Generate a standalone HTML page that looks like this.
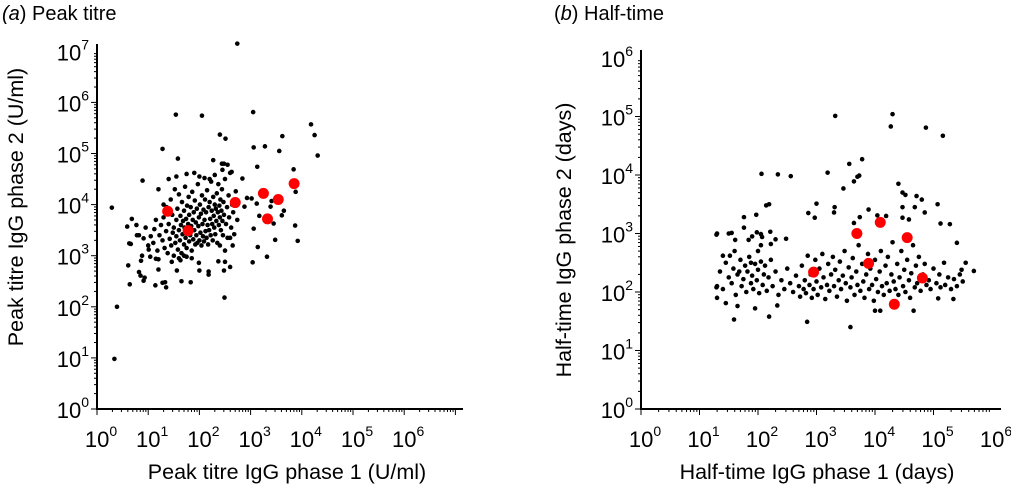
<!DOCTYPE html>
<html><head><meta charset="utf-8"><style>
html,body{margin:0;padding:0;background:#fff;}
svg{display:block;font-family:"Liberation Sans",Arial,sans-serif;}
</style></head><body>
<svg id="chart" width="1011" height="485" viewBox="0 0 1011 485" xmlns="http://www.w3.org/2000/svg">
<text x="2" y="20" font-size="20"><tspan font-style="italic">(a</tspan>) Peak titre</text>
<text x="554" y="20" font-size="20">(<tspan font-style="italic">b</tspan>) Half-time</text>
<text transform="translate(23,207) rotate(-90)" text-anchor="middle" font-size="21.5">Peak titre IgG phase 2 (U/ml)</text>
<text x="287" y="479" text-anchor="middle" font-size="21.5">Peak titre IgG phase 1 (U/ml)</text>
<text transform="translate(571,240) rotate(-90)" text-anchor="middle" font-size="21.5">Half-time IgG phase 2 (days)</text>
<text x="817" y="479" text-anchor="middle" font-size="21.5">Half-time IgG phase 1 (days)</text>
<g id="g1"></g>
<g id="g2"></g>
</svg>
<script>
// Panel A data (log10 values)
const aX = [2.74,1.54,2.05,3.05,4.18,4.25,4.31,2.40,2.51,1.28,1.58,3.06,3.28,3.62,3.56,3.13,3.84,3.88,3.92,3.87,0.29,0.39,0.34,2.49,0.89,3.14,3.04,3.32,3.48,3.45,3.17,3.06,3.65,3.61,3.39,3.41,3.12,3.02,2.93,2.71,2.74,2.88,2.84,2.71,2.63,2.44,2.48,2.27,
0.64,0.61,0.59,0.68,0.77,0.82,0.91,0.63,0.66,0.85,0.93,0.91,0.82,0.86,1.14,1.28,1.35,1.33,1.65,1.83,1.56,1.20,1.01,1.04,1.15,1.20,1.99,2.0,2.18,2.18,2.37,2.50,2.60,2.48,1.75,1.46,1.63,
1.05,1.10,1.12,1.18,1.22,1.25,1.28,1.30,1.32,1.35,1.36,1.38,1.40,1.42,1.44,1.45,1.47,1.48,1.50,1.50,1.52,1.53,1.55,1.55,1.57,1.58,1.60,1.60,1.62,1.63,1.64,1.65,1.66,1.67,1.68,1.70,1.70,1.71,1.72,1.73,1.74,1.75,1.76,1.77,1.78,1.79,1.80,1.80,1.82,1.83,1.84,1.85,1.86,1.87,1.88,1.89,1.90,1.91,1.92,1.93,1.94,1.95,1.96,1.97,1.98,1.99,2.00,2.01,2.02,2.03,2.04,2.05,2.06,2.07,2.08,2.09,2.10,2.11,2.12,2.13,2.14,2.15,2.16,2.17,2.18,2.19,2.20,2.21,2.22,2.23,2.24,2.25,2.26,2.27,2.28,2.29,2.30,2.31,2.32,2.33,2.34,2.35,2.36,2.37,2.38,2.39,2.40,2.41,2.42,2.43,2.44,2.45,2.46,2.47,2.48,2.50,2.52,2.54,2.55,2.57,2.58,2.60,2.62,2.64,2.66,2.68,0.78,0.88,0.95,1.00,1.15,1.20,1.30,1.40,1.55,1.60,1.75,1.90,2.00,2.10,2.20,2.30,2.45,2.55,1.70,1.85,2.40,2.50,2.60,2.65];
const aY = [7.15,5.76,5.74,5.81,5.57,5.36,4.96,5.37,5.29,5.09,4.90,5.12,5.14,5.34,5.05,4.74,4.69,4.25,3.29,3.59,3.94,2.0,0.98,2.18,4.47,3.17,2.87,2.98,3.31,3.63,3.78,3.53,3.88,3.79,3.96,4.07,4.02,4.12,4.13,4.02,3.70,3.96,4.51,4.26,4.64,4.80,4.80,4.87,
2.44,2.81,3.57,3.72,3.60,3.40,3.34,3.24,3.23,2.61,2.57,2.51,2.68,2.90,2.42,2.47,2.38,2.48,2.50,2.48,2.71,2.73,3.12,2.98,2.94,2.93,2.86,2.71,2.69,2.63,2.89,2.88,2.78,2.71,2.98,2.88,2.91,
3.38,3.25,3.52,3.10,3.40,3.60,3.30,3.75,3.15,3.48,3.95,3.05,3.62,3.33,4.10,3.20,3.80,3.45,3.00,3.55,4.30,3.25,3.70,3.38,3.92,3.12,3.50,4.20,3.30,3.78,3.60,3.05,4.05,3.42,3.68,3.22,3.88,3.55,4.35,3.35,3.72,3.15,3.98,3.48,3.62,4.15,3.28,3.80,3.40,3.95,3.58,3.10,4.25,3.70,3.32,3.85,3.50,4.08,3.22,3.65,3.40,3.92,3.25,4.40,3.58,3.75,3.30,4.00,3.45,3.82,3.20,4.18,3.62,3.38,3.90,3.28,3.70,4.10,3.48,3.85,3.35,4.28,3.60,3.22,3.95,3.50,4.05,3.72,3.40,4.45,3.88,3.62,3.30,4.15,3.78,3.55,4.00,3.42,3.92,3.68,4.22,3.25,3.85,4.40,3.60,3.98,3.75,4.10,3.50,3.88,4.30,3.68,3.40,4.05,3.80,4.50,3.62,3.95,3.35,4.18,3.75,4.62,3.55,4.00,3.85,3.42,3.40,3.00,3.55,3.20,3.70,4.30,4.00,4.50,4.55,2.95,4.60,4.62,4.55,4.52,4.50,4.58,4.68,4.78,3.00,2.95,3.20,3.10,3.35,3.20];
const aRedX = [1.38,1.78,2.70,3.25,3.54,3.33,3.85];
const aRedY = [3.87,3.49,4.04,4.22,4.10,3.72,4.41];
// Panel B data (log10 values)
const bX = [3.32,4.30,4.27,4.87,5.16,3.78,3.56,3.19,2.06,2.34,2.56,3.70,3.73,3.64,3.46,4.40,4.47,4.52,4.71,4.80,4.68,4.85,5.07,5.12,5.28,5.40,4.47,4.47,4.58,4.19,4.04,3.89,3.74,3.64,3.31,3.30,3.0,2.86,2.97,2.19,2.14,1.97,1.76,1.76,1.98,2.21,2.05,2.07,1.50,1.29,1.61,1.84,2.48,2.22,
1.59,2.19,2.84,3.58,1.95,2.33,1.65,1.45,1.30,1.29,4.0,4.09,4.66,5.34,5.08,5.69,5.55,5.48,
1.30,1.35,1.40,1.45,1.50,1.55,1.58,1.62,1.65,1.70,1.72,1.75,1.78,1.80,1.82,1.85,1.88,1.90,1.92,1.95,1.98,2.00,2.02,2.05,2.08,2.10,2.12,2.15,2.18,2.22,2.25,2.30,2.35,2.40,2.45,2.50,2.55,2.60,2.65,2.70,2.72,2.75,2.78,2.80,2.82,2.85,2.88,2.90,2.92,2.95,2.98,3.00,3.02,3.05,3.08,3.10,3.12,3.15,3.18,3.20,3.22,3.25,3.28,3.30,3.32,3.35,3.38,3.40,3.42,3.45,3.48,3.50,3.52,3.55,3.58,3.60,3.62,3.65,3.68,3.70,3.72,3.75,3.78,3.80,3.82,3.85,3.88,3.90,3.92,3.95,3.98,4.00,4.02,4.05,4.08,4.10,4.12,4.15,4.18,4.20,4.22,4.25,4.28,4.30,4.32,4.35,4.38,4.40,4.42,4.45,4.48,4.50,4.52,4.55,4.58,4.60,4.62,4.65,4.68,4.70,4.72,4.75,4.78,4.82,4.85,4.88,4.92,4.95,5.00,5.05,5.10,5.12,5.18,5.20,5.25,5.30,5.35,5.40,5.45,5.50,
1.30,1.40,1.55,1.60,1.90,2.05,2.30,1.68,1.52,1.88,2.00];
const bY = [5.01,5.04,4.83,4.81,4.67,4.27,4.19,4.04,4.02,4.01,3.98,3.97,3.99,3.89,3.77,3.85,3.70,3.66,3.64,3.58,3.45,3.36,3.50,3.17,3.16,2.84,3.45,3.27,3.24,3.30,3.31,3.41,3.28,3.18,3.45,3.36,3.51,3.35,3.27,3.50,3.48,3.32,3.28,3.10,3.02,3.03,2.99,2.94,3.0,2.98,2.89,2.89,2.91,2.82,
1.53,1.58,1.49,1.40,1.72,1.77,1.76,1.81,1.90,2.08,1.68,1.68,1.68,1.88,1.89,2.36,2.50,2.38,
2.10,2.35,2.05,2.50,2.25,2.15,2.40,1.95,2.30,2.55,2.10,2.22,2.45,2.00,2.35,2.60,2.15,2.28,2.05,2.48,2.20,2.38,1.98,2.52,2.12,2.30,2.45,2.02,2.25,2.55,2.10,2.35,1.95,2.20,2.05,2.40,2.15,2.00,2.28,2.10,1.92,2.45,2.05,2.20,1.98,2.62,2.12,2.30,1.90,2.05,2.55,2.18,1.95,2.40,2.08,2.65,2.25,1.88,2.12,2.48,2.02,2.30,2.60,2.10,2.38,1.92,2.20,2.52,2.05,2.28,2.70,2.15,1.85,2.42,2.08,2.25,2.58,1.95,2.35,2.12,2.80,2.02,2.48,2.18,1.90,2.30,2.65,2.05,2.40,2.12,1.85,2.55,2.22,2.00,2.35,2.70,2.10,1.95,2.45,2.15,2.60,2.02,2.30,2.85,2.18,2.05,2.48,1.95,2.25,2.70,2.10,2.38,2.00,2.55,2.20,1.90,2.32,2.80,2.08,2.45,2.15,2.60,2.02,2.30,2.48,2.12,2.20,2.05,2.40,2.15,2.30,2.08,2.50,2.12,2.25,2.05,2.22,2.10,2.30,2.18,
3.00,2.62,3.01,2.70,2.95,2.80,2.90,2.35,2.62,2.50,2.70];
const bRedX = [2.95,3.69,4.09,3.89,4.55,4.33,4.81];
const bRedY = [2.34,3.00,3.19,2.49,2.93,1.79,2.24];
const aXTicks = ['0','1','2','3','4','5','6'];
const aYTicks = ['0','1','2','3','4','5','6','7'];
const bXTicks = ['0','1','2','3','4','5','6'];
const bYTicks = ['0','1','2','3','4','5','6'];

const NS='http://www.w3.org/2000/svg';
function mk(parent,tag,attrs){const e=document.createElementNS(NS,tag);for(const k in attrs)e.setAttribute(k,attrs[k]);parent.appendChild(e);return e;}

function panel(g,cfg){
  const sx=v=>cfg.x0+v*cfg.dx, sy=v=>cfg.y0-v*cfg.dy;
  let l=mk(g,'line',{x1:cfg.x0,y1:cfg.yTop,x2:cfg.x0,y2:cfg.y0,stroke:'#000','stroke-width':2});
  
  
  l=mk(g,'line',{x1:cfg.x0-1,y1:cfg.y0,x2:cfg.xEnd,y2:cfg.y0,stroke:'#000','stroke-width':2});
  
  
  for(let d=0;d<cfg.yMaxDec;d++){for(let m=1;m<10;m++){const v=d+Math.log10(m);const y=sy(v);if(y<cfg.yTop)continue;
    const t=mk(g,'line',{x1:cfg.x0-(m==1?6:3),y1:y,x2:cfg.x0,y2:y,stroke:'#000','stroke-width':1});
    
    }}
  for(let d=0;d<cfg.xMaxDec;d++){for(let m=1;m<10;m++){const v=d+Math.log10(m);const x=sx(v);if(x>cfg.xEnd)continue;
    const t=mk(g,'line',{x1:x,y1:cfg.y0,x2:x,y2:cfg.y0+(m==1?6:3),stroke:'#000','stroke-width':1});
    
    }}
  cfg.yTicks.forEach(s=>{const y=sy(+s);
    const t=mk(g,'text',{x:cfg.x0-8,y:y+9,'text-anchor':'end','font-size':22});
    
    
    t.appendChild(document.createTextNode('10'));
    const sp=mk(t,'tspan',{dy:-11,'font-size':14});sp.textContent=s;});
  cfg.xTicks.forEach(s=>{const x=sx(+s);
    const t=mk(g,'text',{x:x+4,y:cfg.y0+38,'text-anchor':'middle','font-size':22});
    
    
    t.appendChild(document.createTextNode('10'));
    const sp=mk(t,'tspan',{dy:-11,'font-size':14});sp.textContent=s;});
  cfg.xs.forEach((v,i)=>{const c=mk(g,'circle',{cx:sx(v),cy:sy(cfg.ys[i]),r:2.3,fill:'#000'});
    
    });
  cfg.rx.forEach((v,i)=>{const c=mk(g,'circle',{cx:sx(v),cy:sy(cfg.ry[i]),r:5.5,fill:'#f00'});
    
    });
}
panel(document.getElementById('g1'),{x0:97,y0:409,dx:51.2,dy:51.1,yTop:44,xEnd:463,yMaxDec:7,xMaxDec:8,xs:aX,ys:aY,rx:aRedX,ry:aRedY,xTicks:aXTicks,yTicks:aYTicks});
panel(document.getElementById('g2'),{x0:641,y0:409,dx:58.5,dy:58.5,yTop:50,xEnd:1001,yMaxDec:6,xMaxDec:6,xs:bX,ys:bY,rx:bRedX,ry:bRedY,xTicks:bXTicks,yTicks:bYTicks});
</script>
</body></html>
